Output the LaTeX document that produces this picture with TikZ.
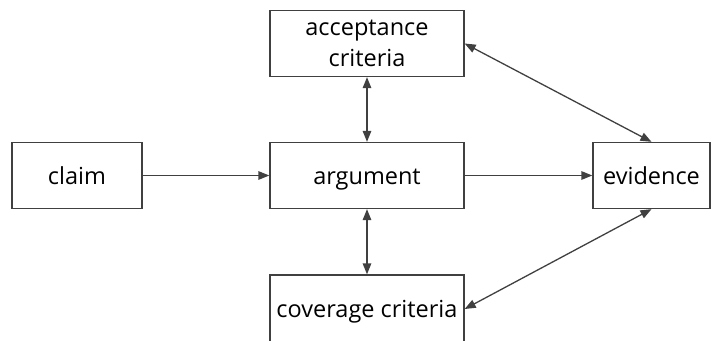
\documentclass[tikz,border=0pt]{standalone}
\usepackage{fontspec}
\setmainfont{Open Sans}
\usepackage{xcolor}
\usepackage{tikz}
\usetikzlibrary{arrows.meta}

\definecolor{linegray}{HTML}{404040}

\begin{document}
\begin{tikzpicture}[x=1pt, y=-1pt,
  box/.style={draw=linegray, line width=1.3pt, minimum height=66pt, align=center,
    font=\fontsize{23.5}{31.5}\selectfont, inner sep=0pt},
  oneline/.style={text height=17pt, text depth=0pt},
  link/.style={draw=linegray, line width=1.3pt, -{Triangle[length=11pt, width=8.5pt]}},
  twoway/.style={link, {Triangle[length=11pt, width=8.5pt]}-{Triangle[length=11pt, width=8.5pt]}}]
\useasboundingbox (0,0) rectangle (712,340);

% Boxes
\node[box, oneline, minimum width=130pt] (claim) at (77,175.5) {claim};
\node[box, oneline, minimum width=194pt] (arg) at (367,175.5) {argument};
\node[box, oneline, minimum width=117pt] (evid) at (651.5,175.5) {evidence};
\node[box, minimum width=194pt] (accept) at (367,43.5) {acceptance\\criteria};
\node[box, oneline, minimum width=194pt, minimum height=68pt] (cover) at (367,309) {coverage criteria};

% Main flow
\draw[link] (claim) -- (arg);
\draw[link] (arg) -- (evid);

% Criteria links
\draw[twoway] (accept) -- (arg);
\draw[twoway] (arg) -- (cover);
\draw[twoway] (accept.east) -- (evid.north);
\draw[twoway] (cover.east) -- (evid.south);

\end{tikzpicture}
\end{document}
